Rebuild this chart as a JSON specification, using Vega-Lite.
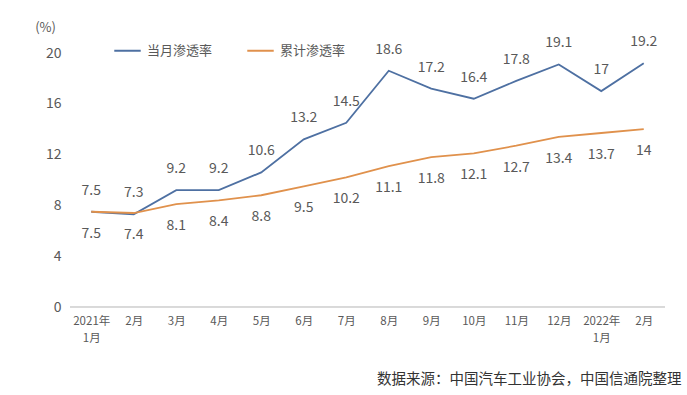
{
  "$schema": "https://vega.github.io/schema/vega-lite/v6.json",
  "autosize": {"type": "none"},
  "width": 595,
  "height": 254,
  "padding": {"left": 70, "top": 53, "right": 22, "bottom": 88},
  "background": "#ffffff",
  "config": {
    "font": "Noto Sans CJK SC",
    "view": {"stroke": null}
  },
  "title": {
    "text": "数据来源：中国汽车工业协会，中国信通院整理",
    "orient": "bottom",
    "anchor": "end",
    "offset": 29,
    "dx": 16,
    "fontSize": 14.5,
    "fontWeight": "normal",
    "color": "#333333",
    "font": "Noto Sans CJK SC"
  },
  "datasets": {
    "rates": [
      {"month": "2021年|1月", "series": "当月渗透率", "value": 7.5},
      {"month": "2月", "series": "当月渗透率", "value": 7.3},
      {"month": "3月", "series": "当月渗透率", "value": 9.2},
      {"month": "4月", "series": "当月渗透率", "value": 9.2},
      {"month": "5月", "series": "当月渗透率", "value": 10.6},
      {"month": "6月", "series": "当月渗透率", "value": 13.2},
      {"month": "7月", "series": "当月渗透率", "value": 14.5},
      {"month": "8月", "series": "当月渗透率", "value": 18.6},
      {"month": "9月", "series": "当月渗透率", "value": 17.2},
      {"month": "10月", "series": "当月渗透率", "value": 16.4},
      {"month": "11月", "series": "当月渗透率", "value": 17.8},
      {"month": "12月", "series": "当月渗透率", "value": 19.1},
      {"month": "2022年|1月", "series": "当月渗透率", "value": 17},
      {"month": "2月 ", "series": "当月渗透率", "value": 19.2},
      {"month": "2021年|1月", "series": "累计渗透率", "value": 7.5},
      {"month": "2月", "series": "累计渗透率", "value": 7.4},
      {"month": "3月", "series": "累计渗透率", "value": 8.1},
      {"month": "4月", "series": "累计渗透率", "value": 8.4},
      {"month": "5月", "series": "累计渗透率", "value": 8.8},
      {"month": "6月", "series": "累计渗透率", "value": 9.5},
      {"month": "7月", "series": "累计渗透率", "value": 10.2},
      {"month": "8月", "series": "累计渗透率", "value": 11.1},
      {"month": "9月", "series": "累计渗透率", "value": 11.8},
      {"month": "10月", "series": "累计渗透率", "value": 12.1},
      {"month": "11月", "series": "累计渗透率", "value": 12.7},
      {"month": "12月", "series": "累计渗透率", "value": 13.4},
      {"month": "2022年|1月", "series": "累计渗透率", "value": 13.7},
      {"month": "2月 ", "series": "累计渗透率", "value": 14}
    ]
  },
  "data": {"name": "rates"},
  "encoding": {
    "x": {
      "field": "month",
      "type": "ordinal",
      "sort": null,
      "scale": {"type": "point", "padding": 0.5},
      "axis": {
        "title": null,
        "labelAngle": 0,
        "labelExpr": "split(datum.label, '|')",
        "labelFontSize": 11.5,
        "labelColor": "#595959",
        "labelPadding": 8,
        "labelLineHeight": 17,
        "domain": false,
        "ticks": false,
        "grid": false
      }
    },
    "y": {
      "field": "value",
      "type": "quantitative",
      "scale": {"domain": [0, 20], "nice": false},
      "axis": {
        "values": [0, 4, 8, 12, 16, 20],
        "title": "(%)",
        "titleAngle": 0,
        "titleX": -25,
        "titleY": -26,
        "titleAlign": "center",
        "titleBaseline": "middle",
        "titleFontSize": 13,
        "titleFontWeight": "normal",
        "titleColor": "#595959",
        "labelFontSize": 14,
        "labelColor": "#595959",
        "labelPadding": 9,
        "domain": false,
        "ticks": false,
        "grid": false
      }
    }
  },
  "layer": [
    {
      "mark": {"type": "rule", "color": "#d9d9d9", "strokeWidth": 1},
      "encoding": {"y": {"datum": 0}, "x": null}
    },
    {
      "mark": {"type": "line", "strokeWidth": 1.8},
      "encoding": {
        "color": {
          "field": "series",
          "type": "nominal",
          "sort": ["当月渗透率", "累计渗透率"],
          "scale": {"domain": ["当月渗透率", "累计渗透率"], "range": ["#4e70a2", "#e0914c"]},
          "legend": {
            "title": null,
            "orient": "none",
            "legendX": 43,
            "legendY": -17,
            "direction": "horizontal",
            "symbolType": "stroke",
            "symbolSize": 700,
            "symbolStrokeWidth": 2,
            "labelFontSize": 13,
            "labelColor": "#595959",
            "labelOffset": 5,
            "columnPadding": 30
          }
        }
      }
    },
    {
      "transform": [{"filter": "datum.series == '当月渗透率'"}],
      "mark": {"type": "text", "dy": -21, "fontSize": 14, "color": "#595959", "baseline": "middle"},
      "encoding": {"text": {"field": "value", "type": "quantitative"}}
    },
    {
      "transform": [{"filter": "datum.series == '累计渗透率'"}],
      "mark": {"type": "text", "dy": 22, "fontSize": 14, "color": "#595959", "baseline": "middle"},
      "encoding": {"text": {"field": "value", "type": "quantitative"}}
    }
  ]
}
